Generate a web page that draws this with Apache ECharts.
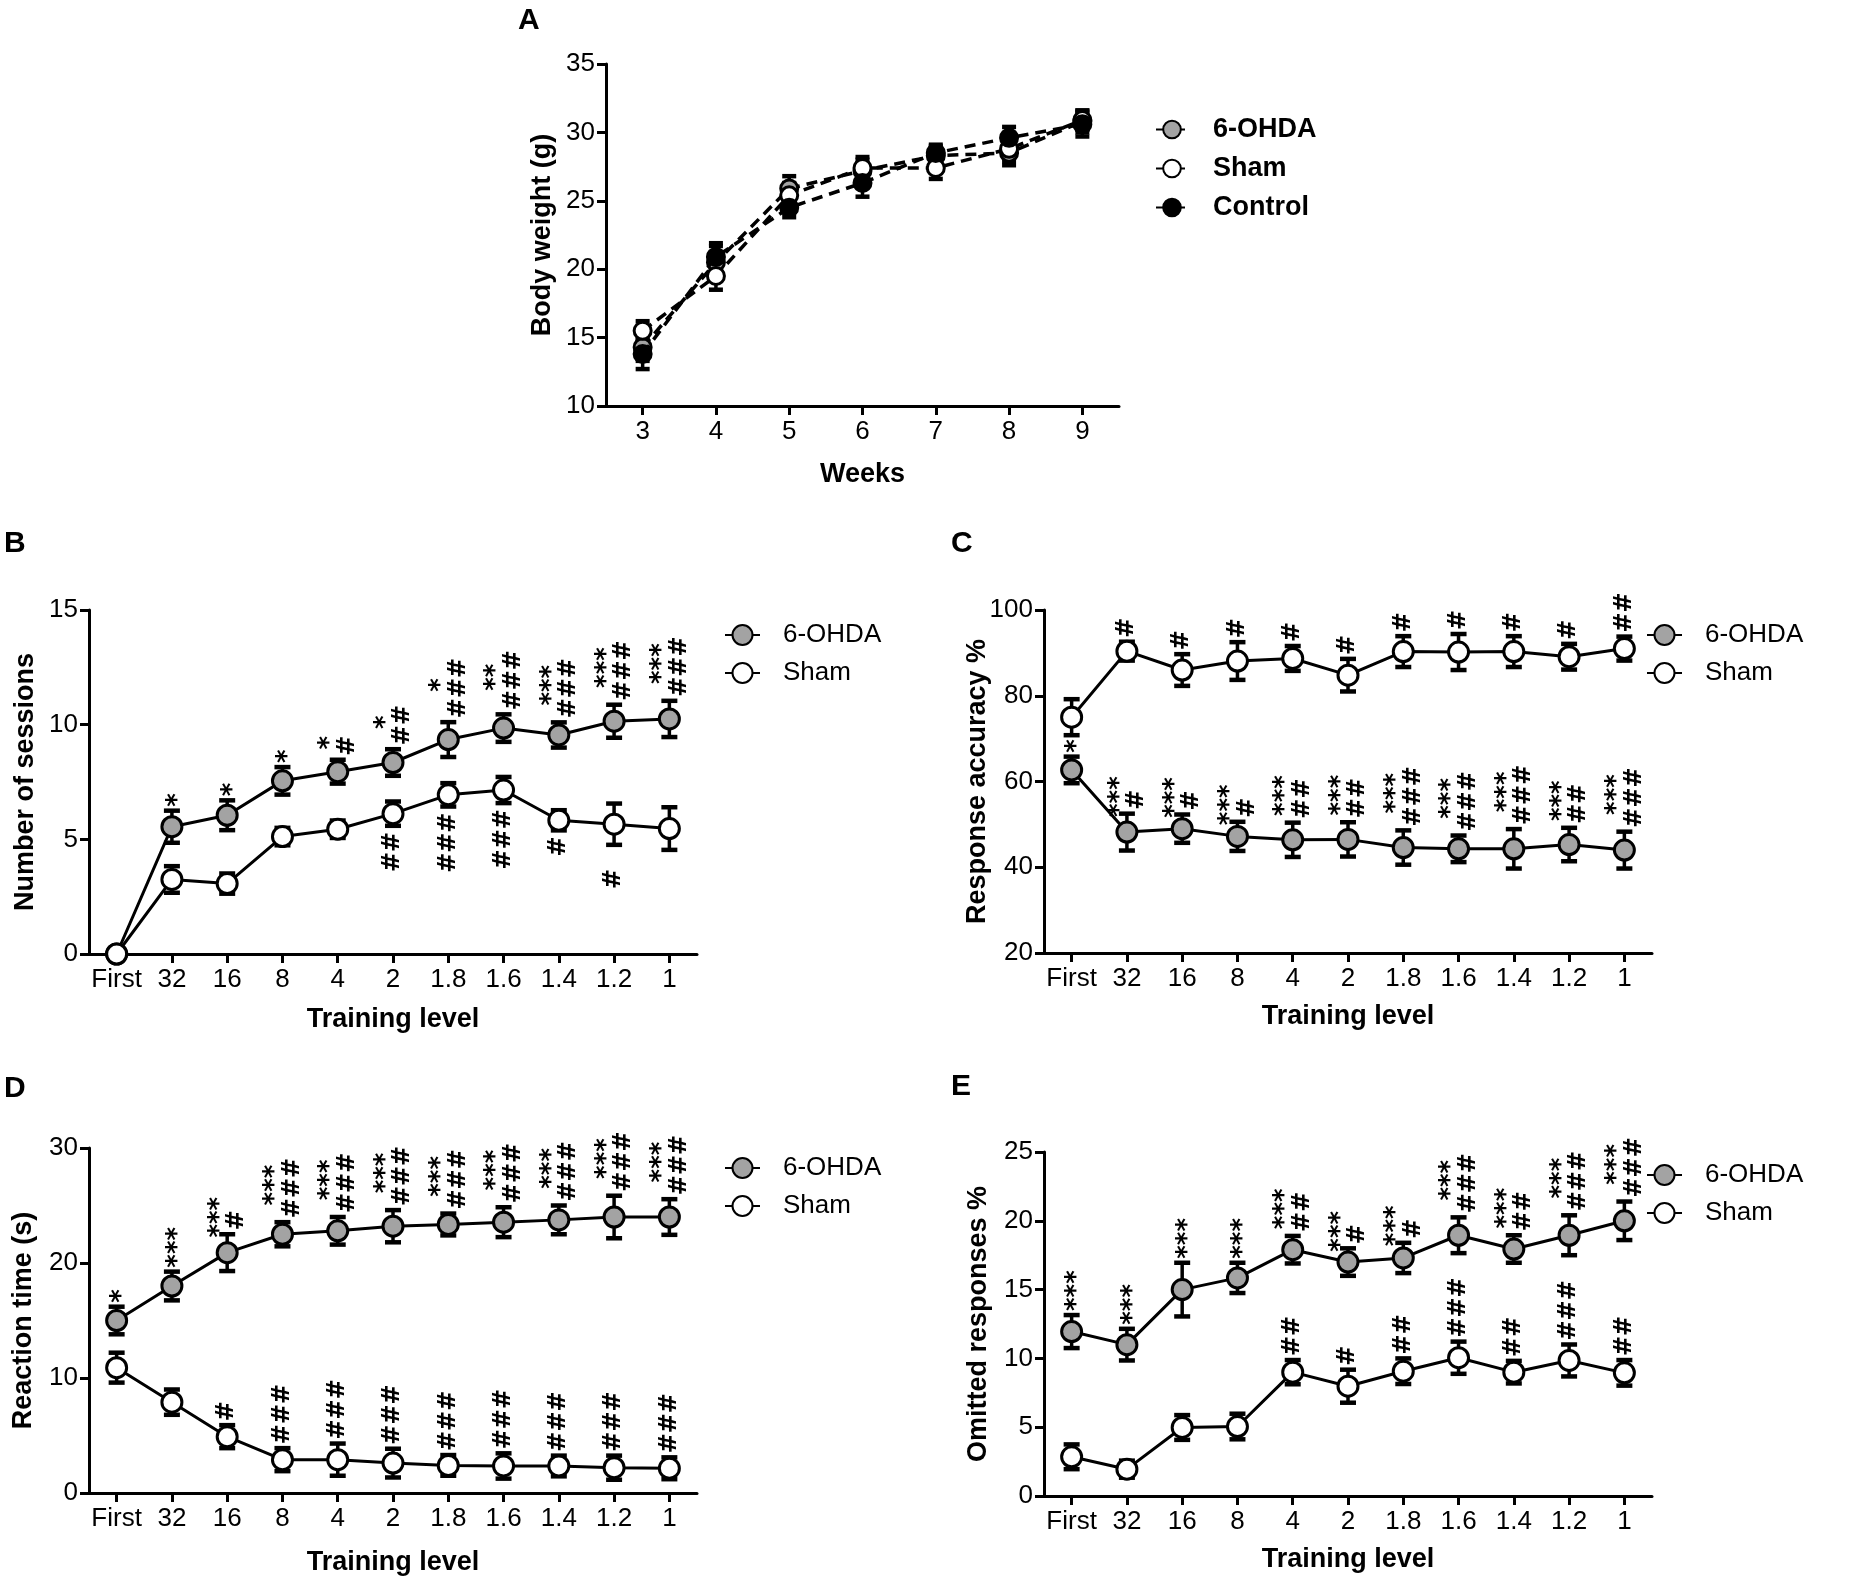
<!DOCTYPE html>
<html><head><meta charset="utf-8">
<script src="https://cdn.jsdelivr.net/npm/echarts@6.0.0/dist/echarts.min.js"></script>
<style>html,body{margin:0;padding:0;background:#fff}#c{width:1850px;height:1584px}</style>
</head><body><div id="c"></div>
<script>
// ---------- data ----------
const weeks = ['3','4','5','6','7','8','9'];
const A_ohda = [14.3, 20.5, 25.9, 27.2, 28.3, 28.5, 30.8];
const A_ohdaErr = [1.0, 1.2, 0.9, 1.0, 0.7, 0.9, 0.8];
const A_sham = [15.5, 19.5, 25.4, 27.4, 27.4, 28.8, 30.9];
const A_shamErr = [0.7, 1.0, 0.9, 0.6, 0.8, 0.9, 0.7];
const A_ctrl = [13.8, 20.9, 24.5, 26.3, 28.5, 29.6, 30.6];
const A_ctrlErr = [1.1, 1.0, 0.7, 1.0, 0.6, 0.8, 0.9];

const levels = ['First','32','16','8','4','2','1.8','1.6','1.4','1.2','1'];

const B_ohda = [0, 5.55, 6.05, 7.55, 7.95, 8.35, 9.35, 9.85, 9.55, 10.15, 10.25];
const B_ohdaErr = [0, 0.7, 0.65, 0.6, 0.52, 0.58, 0.76, 0.6, 0.55, 0.72, 0.79];
const B_sham = [0, 3.25, 3.07, 5.12, 5.44, 6.12, 6.94, 7.15, 5.83, 5.66, 5.47];
const B_shamErr = [0, 0.58, 0.44, 0.38, 0.38, 0.53, 0.51, 0.57, 0.44, 0.9, 0.93];
const B_ohdaStar = ['', '*', '*', '*', '*', '*', '*', '**', '***', '***', '***'];
const B_ohdaHash = ['', '', '', '', '#', '##', '###', '###', '###', '###', '###'];
const B_shamHash = ['', '', '', '', '', '##', '###', '###', '#', '#', ''];

const C_ohda = [62.7, 48.2, 49.0, 47.2, 46.4, 46.5, 44.6, 44.3, 44.3, 45.3, 44.0];
const C_ohdaErr = [3.1, 4.3, 3.3, 3.4, 4.0, 4.0, 4.0, 3.1, 4.6, 3.9, 4.3];
const C_sham = [75.0, 90.4, 86.0, 88.1, 88.7, 84.8, 90.3, 90.2, 90.3, 89.1, 91.0];
const C_shamErr = [4.2, 2.2, 3.7, 4.4, 2.9, 3.8, 3.6, 4.2, 3.6, 3.0, 2.8];
const C_ohdaStar = ['*', '***', '***', '***', '***', '***', '***', '***', '***', '***', '***'];
const C_ohdaHash = ['', '#', '#', '#', '##', '##', '###', '###', '###', '##', '###'];
const C_shamHash = ['', '#', '#', '#', '#', '#', '#', '#', '#', '#', '##'];

const D_ohda = [15.0, 18.0, 20.9, 22.5, 22.8, 23.2, 23.35, 23.55, 23.75, 24.0, 24.0];
const D_ohdaErr = [1.2, 1.25, 1.6, 1.05, 1.2, 1.4, 0.95, 1.3, 1.25, 1.85, 1.55];
const D_sham = [10.9, 7.9, 4.9, 2.9, 2.9, 2.6, 2.4, 2.35, 2.35, 2.2, 2.15];
const D_shamErr = [1.3, 1.1, 1.0, 1.0, 1.4, 1.25, 0.9, 1.1, 0.9, 1.05, 0.95];
const D_ohdaStar = ['*', '***', '***', '***', '***', '***', '***', '***', '***', '***', '***'];
const D_ohdaHash = ['', '', '#', '###', '###', '###', '###', '###', '###', '###', '###'];
const D_shamHash = ['', '', '#', '###', '###', '###', '###', '###', '###', '###', '###'];

const E_ohda = [11.95, 11.0, 15.0, 15.85, 17.9, 17.0, 17.3, 18.95, 17.95, 18.95, 20.0];
const E_ohdaErr = [1.2, 1.15, 1.95, 1.1, 1.0, 1.0, 1.1, 1.3, 1.0, 1.45, 1.4];
const E_sham = [2.85, 1.95, 4.98, 5.05, 9.0, 7.98, 9.07, 10.05, 9.0, 9.85, 8.95];
const E_shamErr = [0.9, 0.62, 0.9, 0.93, 0.88, 1.2, 0.93, 1.17, 0.82, 1.16, 0.93];
const E_ohdaStar = ['***', '***', '***', '***', '***', '***', '***', '***', '***', '***', '***'];
const E_ohdaHash = ['', '', '', '', '##', '#', '#', '###', '##', '###', '###'];
const E_shamHash = ['', '', '', '', '##', '#', '##', '###', '##', '###', '##'];

// ---------- styling helpers ----------
const FF = '"Liberation Sans", Arial, Helvetica, sans-serif';
const AFS = 24;
const HFONT = 'bold ' + AFS + 'px "DejaVu Sans", sans-serif';
const SFONT = 'bold 26px "DejaVu Sans", sans-serif';
const HASH_ADV = 0.838 * AFS;
const GRAY = '#a3a3a3';

function xAx(gi, cats, name, gap, fs) {
  return {
    type: 'category', gridIndex: gi, data: cats, boundaryGap: true,
    axisLine: {show: true, onZero: false, lineStyle: {color: '#000', width: 3}},
    axisTick: {show: true, alignWithLabel: true, interval: 0, length: 9, lineStyle: {color: '#000', width: 3}},
    axisLabel: {interval: 0, margin: 13, color: '#000', fontSize: fs, fontFamily: FF},
    splitLine: {show: false},
    name: name, nameLocation: 'middle', nameGap: gap, nameMoveOverlap: false,
    nameTextStyle: {color: '#000', fontSize: 27, fontWeight: 'bold', fontFamily: FF}
  };
}
function yAx(gi, min, max, interval, name, gap, fs) {
  return {
    type: 'value', gridIndex: gi, min: min, max: max, interval: interval,
    axisLine: {show: true, lineStyle: {color: '#000', width: 3}},
    axisTick: {show: true, length: 9, lineStyle: {color: '#000', width: 3}},
    axisLabel: {margin: 11, color: '#000', fontSize: fs, fontFamily: FF},
    splitLine: {show: false},
    name: name, nameLocation: 'middle', nameGap: gap, nameMoveOverlap: false,
    nameTextStyle: {color: '#000', fontSize: 27, fontWeight: 'bold', fontFamily: FF}
  };
}
function lineS(gi, name, vals, fill, z, dashed, size) {
  return {
    type: 'line', name: name, xAxisIndex: gi, yAxisIndex: gi, data: vals, z: z,
    symbol: 'circle', symbolSize: size, showSymbol: true, silent: true,
    itemStyle: {color: fill, borderColor: '#000', borderWidth: 3},
    lineStyle: {color: '#000', width: dashed ? 3.5 : 3, type: dashed ? [11, 7] : 'solid'},
    emphasis: {disabled: true}
  };
}
function errS(gi, vals, errs, capW) {
  return {
    type: 'custom', xAxisIndex: gi, yAxisIndex: gi, z: 2, silent: true,
    data: vals.map((v, i) => [i, v - errs[i], v + errs[i]]),
    renderItem: function (params, api) {
      const lo = api.coord([api.value(0), api.value(1)]);
      const hi = api.coord([api.value(0), api.value(2)]);
      const x = lo[0];
      return {type: 'group', children: [
        {type: 'line', shape: {x1: x, y1: lo[1], x2: x, y2: hi[1]}, style: {stroke: '#000', lineWidth: 3.5}},
        {type: 'line', shape: {x1: x - capW, y1: lo[1], x2: x + capW, y2: lo[1]}, style: {stroke: '#000', lineWidth: 4.5}},
        {type: 'line', shape: {x1: x - capW, y1: hi[1], x2: x + capW, y2: hi[1]}, style: {stroke: '#000', lineWidth: 4.5}}
      ]};
    }
  };
}
function rtext(x, y, t, align, font) {
  return {type: 'text', x: x, y: y, rotation: Math.PI / 2,
    style: {text: t, font: font, fill: '#000', align: align, verticalAlign: 'middle'}};
}
// dir: 1 = above error bar top, -1 = below error bar bottom
function annS(gi, vals, errs, stars, hashes, dir) {
  return {
    type: 'custom', xAxisIndex: gi, yAxisIndex: gi, z: 6, silent: true,
    data: vals.map((v, i) => [i, dir > 0 ? v + errs[i] : v - errs[i]]),
    renderItem: function (params, api) {
      const i = params.dataIndex;
      const p = api.coord([api.value(0), api.value(1)]);
      const s = stars ? stars[i] : '';
      const h = hashes ? hashes[i] : '';
      const ch = [];
      if (dir > 0) {
        const y0 = p[1] - 4;
        if (h && s) {
          ch.push(rtext(p[0] + 10, y0, h, 'left', HFONT));
          const hl = h.length * HASH_ADV;
          ch.push(rtext(p[0] - 7, y0 - hl / 2 - 3, s, 'center', SFONT));
        } else if (h) {
          ch.push(rtext(p[0], y0, h, 'left', HFONT));
        } else if (s) {
          ch.push(rtext(p[0] + 6, y0, s, 'left', SFONT));
        }
      } else {
        if (h) ch.push(rtext(p[0], p[1] + 6 + (i === 9 ? 18 : 0), h, 'right', HFONT));
      }
      return {type: 'group', children: ch};
    }
  };
}
function legendB(left, top) {
  return {
    data: ['6-OHDA', 'Sham'], left: left, top: top, orient: 'vertical',
    itemWidth: 35, itemHeight: 25, itemGap: 12, selectedMode: false, padding: 0,
    textStyle: {color: '#000', fontSize: 26, fontFamily: FF, padding: [0, 0, 0, 18]}
  };
}
function letter(t, left, top) {
  return {text: t, left: left, top: top, padding: 0,
    textStyle: {color: '#000', fontSize: 30, fontWeight: 'bold', fontFamily: FF}};
}

const option = {
  animation: false,
  backgroundColor: '#fff',
  title: [letter('A', 518, 6), letter('B', 4, 529), letter('C', 951, 529), letter('D', 4, 1074), letter('E', 951, 1072)],
  legend: [
    {data: ['6-OHDA ', 'Sham ', 'Control'], left: 1155, top: 116, orient: 'vertical',
     itemWidth: 32, itemHeight: 22, itemGap: 12, selectedMode: false, padding: 0,
     textStyle: {color: '#000', fontSize: 27, fontWeight: 'bold', fontFamily: FF, padding: [0, 0, 0, 20]}},
    legendB(724, 622), legendB(1646, 622), legendB(724, 1155), legendB(1646, 1162)
  ],
  grid: [
    {left: 606, top: 64, width: 513, height: 342, outerBoundsMode: 'none', containLabel: false},
    {left: 89, top: 610, width: 608, height: 344, outerBoundsMode: 'none', containLabel: false},
    {left: 1044, top: 610, width: 608, height: 343, outerBoundsMode: 'none', containLabel: false},
    {left: 89, top: 1148, width: 608, height: 345, outerBoundsMode: 'none', containLabel: false},
    {left: 1044, top: 1152, width: 608, height: 344, outerBoundsMode: 'none', containLabel: false}
  ],
  xAxis: [
    xAx(0, weeks, 'Weeks', 55, 26),
    xAx(1, levels, 'Training level', 52, 26),
    xAx(2, levels, 'Training level', 50, 26),
    xAx(3, levels, 'Training level', 56, 26),
    xAx(4, levels, 'Training level', 50, 26)
  ],
  yAxis: [
    yAx(0, 10, 35, 5, 'Body weight (g)', 50, 26),
    yAx(1, 0, 15, 5, 'Number of sessions', 50, 26),
    yAx(2, 20, 100, 20, 'Response accuracy %', 53, 26),
    yAx(3, 0, 30, 10, 'Reaction time (s)', 52, 26),
    yAx(4, 0, 25, 5, 'Omitted responses %', 52, 26)
  ],
  series: [
    // A
    errS(0, A_ohda, A_ohdaErr, 7), errS(0, A_sham, A_shamErr, 7), errS(0, A_ctrl, A_ctrlErr, 7),
    lineS(0, '6-OHDA ', A_ohda, GRAY, 3, true, 17),
    lineS(0, 'Sham ', A_sham, '#fff', 4, true, 17),
    lineS(0, 'Control', A_ctrl, '#000', 5, true, 17),
    // B
    errS(1, B_ohda, B_ohdaErr, 8), errS(1, B_sham, B_shamErr, 8),
    lineS(1, '6-OHDA', B_ohda, GRAY, 3, false, 20),
    lineS(1, 'Sham', B_sham, '#fff', 4, false, 20),
    annS(1, B_ohda, B_ohdaErr, B_ohdaStar, B_ohdaHash, 1),
    annS(1, B_sham, B_shamErr, null, B_shamHash, -1),
    // C
    errS(2, C_ohda, C_ohdaErr, 8), errS(2, C_sham, C_shamErr, 8),
    lineS(2, '6-OHDA', C_ohda, GRAY, 3, false, 20),
    lineS(2, 'Sham', C_sham, '#fff', 4, false, 20),
    annS(2, C_ohda, C_ohdaErr, C_ohdaStar, C_ohdaHash, 1),
    annS(2, C_sham, C_shamErr, null, C_shamHash, 1),
    // D
    errS(3, D_ohda, D_ohdaErr, 8), errS(3, D_sham, D_shamErr, 8),
    lineS(3, '6-OHDA', D_ohda, GRAY, 3, false, 20),
    lineS(3, 'Sham', D_sham, '#fff', 4, false, 20),
    annS(3, D_ohda, D_ohdaErr, D_ohdaStar, D_ohdaHash, 1),
    annS(3, D_sham, D_shamErr, null, D_shamHash, 1),
    // E
    errS(4, E_ohda, E_ohdaErr, 8), errS(4, E_sham, E_shamErr, 8),
    lineS(4, '6-OHDA', E_ohda, GRAY, 3, false, 20),
    lineS(4, 'Sham', E_sham, '#fff', 4, false, 20),
    annS(4, E_ohda, E_ohdaErr, E_ohdaStar, E_ohdaHash, 1),
    annS(4, E_sham, E_shamErr, null, E_shamHash, 1)
  ]
};
const chart = echarts.init(document.getElementById('c'), null, {renderer: 'canvas'});
chart.setOption(option);
</script>
</body></html>
